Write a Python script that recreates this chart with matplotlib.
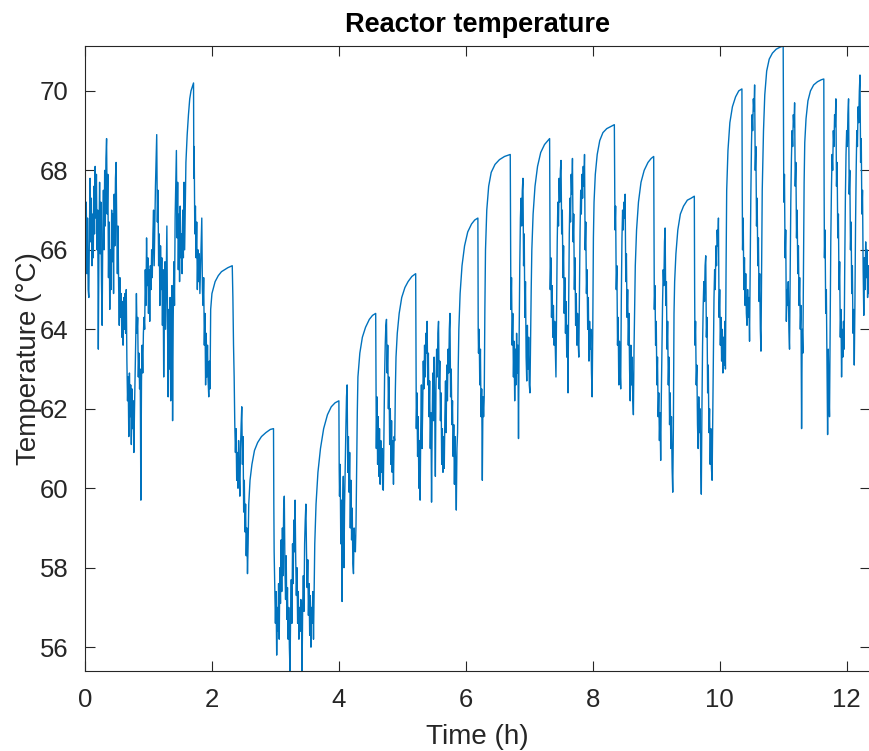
import numpy as np
import matplotlib.pyplot as plt

plt.rcParams['font.family'] = ['Liberation Sans', 'DejaVu Sans']

# ============== DATA (time h, temperature degC) ==============
seg_0_2h = [
    (0.00, 67.6), (0.01, 66.0), (0.02, 67.2), (0.03, 65.4), (0.04, 66.8), (0.05, 65.0), (0.06, 64.8), (0.07, 66.5),
    (0.08, 67.8), (0.09, 66.2), (0.10, 67.3), (0.11, 65.6), (0.12, 66.9), (0.13, 65.8), (0.14, 67.6), (0.15, 66.4),
    (0.16, 68.1), (0.17, 66.8), (0.18, 67.9), (0.19, 66.0), (0.20, 67.0), (0.21, 63.5), (0.22, 66.2), (0.23, 67.7),
    (0.24, 65.9), (0.25, 67.2), (0.26, 65.2), (0.27, 64.1), (0.28, 66.4), (0.29, 67.5), (0.30, 66.0), (0.31, 68.0),
    (0.32, 66.6), (0.33, 68.3), (0.34, 68.8), (0.35, 66.9), (0.36, 67.9), (0.37, 65.3), (0.38, 66.7), (0.39, 64.5),
    (0.40, 66.0), (0.41, 65.0), (0.42, 67.0), (0.43, 65.7), (0.44, 66.9), (0.45, 64.9), (0.46, 67.4), (0.47, 66.1),
    (0.48, 67.8), (0.49, 68.2), (0.50, 66.6), (0.51, 65.4), (0.52, 66.6), (0.53, 65.1), (0.54, 64.1), (0.55, 65.3),
    (0.56, 64.3), (0.57, 64.9), (0.58, 63.8), (0.59, 64.7), (0.60, 63.6), (0.61, 64.8), (0.62, 64.0), (0.63, 64.9),
    (0.64, 63.9), (0.65, 65.0), (0.66, 63.2), (0.67, 62.2), (0.68, 62.8), (0.69, 61.3), (0.70, 62.9), (0.71, 61.8),
    (0.72, 62.6), (0.73, 61.1), (0.74, 62.5), (0.75, 61.5), (0.76, 62.2), (0.77, 60.9), (0.78, 62.0), (0.79, 62.9),
    (0.80, 63.8), (0.81, 64.9), (0.82, 63.9), (0.83, 64.3), (0.84, 62.8), (0.85, 63.4), (0.86, 62.5), (0.87, 63.0),
    (0.88, 59.7), (0.89, 62.7), (0.90, 63.6), (0.91, 62.9), (0.92, 63.9), (0.93, 64.3), (0.94, 64.0), (0.95, 65.5),
    (0.96, 64.6), (0.97, 66.3), (0.98, 65.1), (0.99, 65.8), (1.00, 64.4), (1.01, 65.5), (1.02, 64.2), (1.03, 65.6),
    (1.04, 65.0), (1.05, 66.0), (1.06, 65.3), (1.07, 66.4), (1.08, 67.0), (1.09, 65.6), (1.10, 66.6), (1.11, 67.6),
    (1.12, 68.3), (1.13, 68.9), (1.14, 66.7), (1.15, 67.5), (1.16, 65.6), (1.17, 66.4), (1.18, 64.6), (1.19, 66.1),
    (1.20, 65.0), (1.21, 65.8), (1.22, 64.1), (1.23, 65.5), (1.24, 62.8), (1.25, 64.6), (1.26, 65.7), (1.27, 64.0),
    (1.28, 65.4), (1.29, 66.6), (1.30, 64.2), (1.31, 62.3), (1.32, 64.5), (1.33, 63.0), (1.34, 64.8), (1.35, 62.2),
    (1.36, 64.0), (1.37, 65.1), (1.38, 61.7), (1.39, 64.3), (1.40, 65.7), (1.41, 64.6), (1.42, 66.8), (1.43, 67.6),
    (1.44, 68.5), (1.45, 66.3), (1.46, 67.7), (1.47, 65.5), (1.48, 66.9), (1.49, 65.2), (1.50, 67.1), (1.51, 65.8),
    (1.52, 66.4), (1.53, 65.4), (1.54, 67.0), (1.55, 65.8), (1.56, 67.7), (1.57, 66.0), (1.58, 67.2), (1.59, 68.2),
    (1.61, 68.9), (1.63, 69.4), (1.65, 69.8), (1.67, 70.0), (1.69, 70.1), (1.71, 70.2), (1.715, 67.8), (1.72, 68.6),
    (1.73, 66.4), (1.74, 67.1), (1.75, 65.8), (1.76, 66.7), (1.77, 65.0), (1.78, 66.0), (1.79, 65.2), (1.80, 65.9),
    (1.81, 64.9), (1.82, 65.5), (1.83, 66.2), (1.84, 66.8), (1.85, 65.0), (1.86, 64.6), (1.87, 65.3), (1.88, 63.6),
    (1.89, 64.4), (1.90, 62.6), (1.91, 63.9), (1.92, 62.8), (1.93, 63.6), (1.94, 62.7), (1.95, 62.3), (1.96, 63.2),
    (1.97, 62.5), (1.98, 64.5),
]

seg_2_4h = [
    (2.00, 64.9), (2.05, 65.2), (2.10, 65.35), (2.15, 65.45), (2.20, 65.5), (2.25, 65.55), (2.32, 65.6),
    (2.33, 64.8), (2.34, 63.6), (2.35, 62.8), (2.36, 61.6), (2.37, 60.9), (2.38, 61.5), (2.39, 60.2), (2.40, 60.9),
    (2.41, 60.0), (2.42, 61.2), (2.43, 60.3), (2.44, 59.8), (2.45, 61.0), (2.46, 61.6), (2.47, 62.05), (2.48, 60.6),
    (2.49, 61.3), (2.50, 59.4), (2.51, 60.2), (2.52, 58.9), (2.53, 59.6), (2.54, 58.3), (2.55, 59.0), (2.56, 57.85),
    (2.57, 58.6), (2.58, 59.6), (2.60, 60.2), (2.63, 60.6), (2.67, 60.95), (2.72, 61.15), (2.78, 61.3), (2.85, 61.4),
    (2.92, 61.48), (2.97, 61.5), (2.975, 59.6), (2.98, 58.4), (2.99, 57.5), (3.00, 56.6), (3.01, 57.4), (3.02, 55.8),
    (3.03, 57.0), (3.04, 56.4), (3.05, 57.6), (3.06, 56.2), (3.07, 58.0), (3.08, 57.1), (3.09, 58.7), (3.10, 57.4),
    (3.11, 59.0), (3.12, 57.8), (3.13, 59.5), (3.14, 59.8), (3.15, 58.0), (3.16, 57.2), (3.17, 58.3), (3.18, 56.7),
    (3.19, 57.5), (3.20, 56.2), (3.21, 57.0), (3.22, 56.0), (3.23, 55.4), (3.24, 56.9), (3.25, 57.7), (3.26, 56.6),
    (3.27, 58.6), (3.28, 57.6), (3.29, 59.2), (3.30, 58.4), (3.31, 59.7), (3.32, 58.2), (3.33, 57.3), (3.34, 58.0),
    (3.35, 56.6), (3.36, 57.4), (3.37, 56.2), (3.38, 57.0), (3.39, 56.4), (3.40, 57.2), (3.41, 56.8), (3.42, 55.4),
    (3.43, 57.1), (3.44, 57.8), (3.45, 56.9), (3.46, 58.6), (3.47, 59.2), (3.48, 59.6), (3.49, 58.4), (3.50, 57.5),
    (3.51, 58.2), (3.52, 56.8), (3.53, 57.6), (3.54, 56.3), (3.55, 57.3), (3.56, 56.0), (3.57, 57.0), (3.58, 56.6),
    (3.59, 57.4), (3.60, 56.2), (3.61, 57.5), (3.62, 58.6), (3.64, 59.6), (3.67, 60.4), (3.71, 61.0), (3.76, 61.5),
    (3.82, 61.85), (3.88, 62.05), (3.94, 62.15), (4.00, 62.2),
]

seg_4_6h = [
    (4.005, 60.5), (4.01, 59.8), (4.02, 60.6), (4.03, 58.6), (4.04, 59.7), (4.05, 57.15), (4.06, 59.5), (4.07, 60.3),
    (4.08, 58.0), (4.09, 59.6), (4.10, 60.6), (4.11, 61.5), (4.12, 62.3), (4.13, 62.6), (4.14, 60.4), (4.15, 61.3),
    (4.16, 59.9), (4.17, 60.9), (4.18, 59.0), (4.19, 60.2), (4.20, 58.7), (4.21, 59.5), (4.22, 58.1), (4.23, 57.85),
    (4.24, 59.0), (4.25, 58.5), (4.26, 58.4), (4.27, 59.1), (4.28, 60.5), (4.29, 61.9), (4.30, 62.8), (4.33, 63.4),
    (4.37, 63.8), (4.42, 64.05), (4.48, 64.25), (4.53, 64.35), (4.58, 64.4), (4.585, 62.9), (4.59, 61.0), (4.60, 62.3),
    (4.61, 60.6), (4.62, 61.8), (4.63, 60.3), (4.64, 61.5), (4.65, 60.1), (4.66, 61.2), (4.67, 60.4), (4.68, 61.0),
    (4.69, 60.0), (4.70, 59.95), (4.71, 61.5), (4.72, 62.8), (4.73, 63.6), (4.74, 64.1), (4.75, 64.25), (4.76, 62.9),
    (4.77, 63.6), (4.78, 62.0), (4.79, 62.8), (4.80, 61.1), (4.81, 62.0), (4.82, 60.6), (4.83, 61.7), (4.84, 60.4),
    (4.85, 61.2), (4.86, 60.1), (4.87, 61.3), (4.88, 61.2), (4.89, 62.5), (4.90, 63.3), (4.92, 63.9), (4.95, 64.4),
    (4.99, 64.8), (5.04, 65.05), (5.09, 65.2), (5.15, 65.33), (5.21, 65.4), (5.215, 63.5), (5.22, 61.5), (5.23, 62.4),
    (5.24, 60.8), (5.25, 61.8), (5.26, 60.0), (5.27, 61.2), (5.28, 59.7), (5.29, 61.5), (5.30, 62.6), (5.31, 61.0),
    (5.32, 62.0), (5.33, 63.2), (5.34, 62.5), (5.35, 63.6), (5.36, 62.8), (5.37, 63.9), (5.38, 63.4), (5.39, 64.2),
    (5.40, 62.6), (5.41, 63.4), (5.42, 61.8), (5.43, 62.7), (5.44, 61.0), (5.45, 61.9), (5.46, 59.65), (5.47, 61.6),
    (5.48, 62.9), (5.49, 61.7), (5.50, 63.3), (5.51, 62.0), (5.52, 60.3), (5.53, 62.6), (5.54, 63.5), (5.55, 62.8),
    (5.56, 63.9), (5.57, 64.2), (5.58, 62.5), (5.59, 63.2), (5.60, 61.7), (5.61, 62.4), (5.62, 60.6), (5.63, 61.5),
    (5.64, 60.4), (5.65, 61.3), (5.66, 60.5), (5.67, 61.8), (5.68, 62.7), (5.69, 61.4), (5.70, 63.1), (5.71, 62.2),
    (5.72, 63.5), (5.73, 62.9), (5.74, 64.0), (5.75, 64.4), (5.76, 62.3), (5.77, 63.0), (5.78, 61.6), (5.79, 62.2),
    (5.80, 60.8), (5.81, 61.6), (5.82, 60.1), (5.83, 61.3), (5.84, 60.5), (5.85, 59.45), (5.86, 61.0), (5.87, 61.4),
    (5.88, 63.0), (5.89, 64.0), (5.91, 64.9), (5.94, 65.6), (5.98, 66.1),
]

seg_6_8h = [
    (6.03, 66.45), (6.09, 66.65), (6.14, 66.75), (6.19, 66.8), (6.195, 64.0), (6.20, 63.4), (6.21, 64.0), (6.22, 62.6),
    (6.23, 63.5), (6.24, 61.8), (6.25, 62.5), (6.26, 60.2), (6.27, 62.3), (6.28, 61.8), (6.29, 62.3), (6.30, 64.5),
    (6.31, 66.0), (6.33, 67.0), (6.36, 67.6), (6.40, 67.95), (6.46, 68.15), (6.53, 68.27), (6.61, 68.35), (6.70, 68.4),
    (6.705, 66.2), (6.71, 64.5), (6.72, 65.3), (6.73, 63.6), (6.74, 64.4), (6.75, 62.8), (6.76, 63.7), (6.77, 62.2),
    (6.78, 63.5), (6.79, 62.6), (6.80, 63.9), (6.81, 62.9), (6.82, 63.6), (6.83, 61.25), (6.84, 63.8), (6.85, 65.6),
    (6.86, 66.8), (6.87, 67.3), (6.88, 66.6), (6.89, 67.5), (6.90, 67.8), (6.91, 65.6), (6.92, 66.4), (6.93, 64.3),
    (6.94, 65.2), (6.95, 63.3), (6.96, 62.7), (6.97, 64.1), (6.98, 63.0), (6.99, 63.8), (7.00, 62.6), (7.01, 62.4),
    (7.02, 63.8), (7.03, 65.0), (7.04, 66.0), (7.06, 66.9), (7.09, 67.6), (7.13, 68.1), (7.18, 68.45), (7.24, 68.65),
    (7.32, 68.8), (7.325, 66.5), (7.33, 65.0), (7.34, 65.8), (7.35, 64.3), (7.36, 65.1), (7.37, 63.8), (7.38, 64.6),
    (7.39, 63.6), (7.40, 64.2), (7.41, 63.5), (7.42, 62.8), (7.43, 64.5), (7.44, 66.2), (7.45, 67.2), (7.46, 66.6),
    (7.47, 67.8), (7.48, 67.2), (7.49, 68.0), (7.50, 68.25), (7.51, 66.4), (7.52, 67.0), (7.53, 65.3), (7.54, 66.1),
    (7.55, 64.4), (7.56, 65.3), (7.57, 63.9), (7.58, 64.7), (7.59, 63.3), (7.60, 64.1), (7.61, 62.4), (7.62, 64.6),
    (7.63, 66.4), (7.64, 67.3), (7.65, 66.7), (7.66, 67.9), (7.67, 67.4), (7.68, 68.3), (7.69, 66.2), (7.70, 66.9),
    (7.71, 65.0), (7.72, 65.8), (7.73, 64.1), (7.74, 64.9), (7.75, 63.6), (7.76, 64.4), (7.77, 63.7), (7.78, 63.3),
    (7.79, 64.8), (7.80, 66.5), (7.81, 67.5), (7.82, 66.9), (7.83, 67.9), (7.84, 67.3), (7.85, 68.1), (7.86, 67.6),
    (7.87, 68.4), (7.88, 66.0), (7.89, 66.7), (7.90, 64.9), (7.91, 65.5), (7.92, 64.0), (7.93, 64.8), (7.94, 63.2),
    (7.95, 64.2), (7.96, 63.5), (7.97, 64.0), (7.98, 62.9), (7.99, 62.3), (8.00, 64.0),
]

seg_8_10h = [
    (8.01, 66.3), (8.02, 67.2), (8.04, 67.9), (8.07, 68.4), (8.11, 68.75), (8.16, 68.95), (8.22, 69.05), (8.28, 69.1),
    (8.34, 69.15), (8.345, 67.8), (8.35, 66.5), (8.36, 67.1), (8.37, 65.0), (8.38, 65.6), (8.39, 63.6), (8.40, 64.3),
    (8.41, 62.6), (8.42, 63.7), (8.43, 63.0), (8.44, 62.5), (8.45, 64.8), (8.46, 66.3), (8.47, 67.0), (8.48, 66.5),
    (8.49, 67.2), (8.50, 66.8), (8.51, 67.4), (8.52, 65.2), (8.53, 65.9), (8.54, 64.3), (8.55, 65.0), (8.56, 63.6),
    (8.57, 64.4), (8.58, 63.0), (8.59, 62.2), (8.60, 63.6), (8.61, 62.6), (8.62, 63.3), (8.63, 62.3), (8.64, 61.85),
    (8.65, 63.5), (8.66, 64.6), (8.67, 65.6), (8.69, 66.5), (8.72, 67.2), (8.76, 67.7), (8.81, 68.0), (8.87, 68.2),
    (8.92, 68.3), (8.96, 68.35), (8.965, 66.2), (8.97, 64.5), (8.98, 65.1), (8.99, 63.6), (9.00, 64.2), (9.01, 62.6),
    (9.02, 63.3), (9.03, 61.8), (9.04, 62.4), (9.05, 61.2), (9.06, 61.9), (9.07, 60.7), (9.08, 62.3), (9.09, 63.6),
    (9.10, 64.7), (9.11, 65.5), (9.12, 65.1), (9.13, 66.2), (9.14, 66.55), (9.15, 64.6), (9.16, 65.2), (9.17, 63.5),
    (9.18, 64.2), (9.19, 62.6), (9.20, 63.3), (9.21, 61.6), (9.22, 62.4), (9.23, 61.0), (9.24, 61.8), (9.25, 60.5),
    (9.26, 59.9), (9.27, 61.5), (9.28, 64.4), (9.29, 65.2), (9.31, 65.9), (9.34, 66.5), (9.38, 66.9), (9.43, 67.1),
    (9.49, 67.25), (9.55, 67.3), (9.60, 67.35), (9.605, 65.0), (9.61, 63.6), (9.62, 64.2), (9.63, 62.6), (9.64, 63.1),
    (9.65, 61.6), (9.66, 61.0), (9.67, 62.3), (9.68, 61.4), (9.69, 62.0), (9.70, 60.8), (9.71, 59.85), (9.72, 62.0),
    (9.73, 63.6), (9.74, 64.6), (9.75, 65.2), (9.76, 64.7), (9.77, 65.6), (9.78, 65.85), (9.79, 63.8), (9.80, 64.3),
    (9.81, 62.4), (9.82, 63.1), (9.83, 61.4), (9.84, 62.0), (9.85, 60.6), (9.86, 61.5), (9.87, 60.5), (9.88, 60.2),
    (9.89, 61.8), (9.90, 63.5), (9.91, 64.8), (9.92, 65.5), (9.93, 65.0), (9.94, 66.1), (9.95, 65.6), (9.96, 66.5),
    (9.97, 66.1), (9.98, 66.8), (9.99, 64.3),
]

seg_10_12h = [
    (10.00, 65.0), (10.01, 63.6), (10.02, 64.3), (10.03, 63.2), (10.04, 64.0), (10.05, 62.9), (10.06, 63.8),
    (10.07, 63.1), (10.08, 64.2), (10.09, 63.0), (10.10, 65.5), (10.11, 67.5), (10.13, 68.5), (10.16, 69.2),
    (10.20, 69.6), (10.25, 69.85), (10.30, 70.0), (10.35, 70.05), (10.355, 67.5), (10.36, 66.0), (10.37, 66.8),
    (10.38, 65.0), (10.39, 65.8), (10.40, 64.6), (10.41, 65.4), (10.42, 64.4), (10.43, 64.1), (10.44, 65.0),
    (10.45, 64.3), (10.46, 64.8), (10.47, 63.7), (10.48, 65.5), (10.49, 67.3), (10.50, 68.6), (10.51, 69.4),
    (10.52, 69.0), (10.53, 69.8), (10.54, 69.5), (10.55, 70.15), (10.56, 68.0), (10.57, 68.6), (10.58, 66.6),
    (10.59, 67.3), (10.60, 65.6), (10.61, 66.3), (10.62, 64.7), (10.63, 65.4), (10.64, 64.0), (10.65, 63.45),
    (10.66, 65.5), (10.67, 67.5), (10.69, 69.0), (10.71, 69.9), (10.74, 70.5), (10.78, 70.8), (10.83, 70.95),
    (10.89, 71.05), (10.95, 71.1), (11.00, 71.13), (11.005, 68.8), (11.01, 67.2), (11.02, 67.9), (11.03, 65.8),
    (11.04, 66.5), (11.05, 64.2), (11.06, 65.0), (11.07, 64.6), (11.08, 65.2), (11.09, 64.0), (11.10, 63.5),
    (11.11, 65.5), (11.12, 67.2), (11.13, 68.3), (11.14, 69.0), (11.15, 68.6), (11.16, 69.4), (11.17, 69.1),
    (11.18, 69.7), (11.19, 67.6), (11.20, 68.2), (11.21, 66.3), (11.22, 67.0), (11.23, 65.4), (11.24, 66.1),
    (11.25, 64.6), (11.26, 65.3), (11.27, 64.0), (11.28, 64.6), (11.29, 61.5), (11.30, 64.0), (11.31, 63.4),
    (11.32, 65.5), (11.33, 67.7), (11.34, 68.7), (11.36, 69.3), (11.39, 69.75), (11.43, 70.0), (11.48, 70.15),
    (11.54, 70.23), (11.60, 70.28), (11.64, 70.3), (11.645, 67.5), (11.65, 65.8), (11.66, 66.5), (11.67, 64.4),
    (11.68, 65.0), (11.69, 63.2), (11.70, 61.35), (11.71, 63.5), (11.72, 62.5), (11.73, 61.8), (11.74, 64.0),
    (11.75, 66.2), (11.76, 67.5), (11.77, 68.4), (11.78, 68.0), (11.79, 69.0), (11.80, 68.6), (11.81, 69.4),
    (11.82, 69.1), (11.83, 69.8), (11.84, 67.6), (11.85, 68.2), (11.86, 66.3), (11.87, 66.9), (11.88, 65.0),
    (11.89, 65.7), (11.90, 63.8), (11.91, 64.5), (11.92, 62.8), (11.93, 64.0), (11.94, 63.3), (11.95, 64.2),
    (11.96, 63.5), (11.97, 65.6), (11.98, 67.3), (11.99, 68.4),
]

seg_12h_end = [
    (12.00, 69.0), (12.01, 68.6), (12.02, 69.4), (12.03, 69.8), (12.04, 67.4), (12.05, 68.0), (12.06, 66.0),
    (12.07, 66.7), (12.08, 64.9), (12.09, 65.6), (12.10, 63.9), (12.11, 64.5), (12.12, 63.1), (12.13, 64.6),
    (12.14, 66.6), (12.15, 68.0), (12.16, 69.0), (12.17, 68.6), (12.18, 69.6), (12.19, 69.2), (12.20, 70.0),
    (12.21, 70.4), (12.22, 68.2), (12.23, 68.8), (12.24, 66.9), (12.25, 67.5), (12.26, 65.5), (12.27, 64.35),
    (12.28, 65.8), (12.29, 65.0), (12.30, 66.2), (12.31, 65.3), (12.32, 66.0), (12.33, 64.8), (12.34, 65.6),
    (12.35, 64.9), (12.36, 65.4),
]

x_ticks = [0, 2, 4, 6, 8, 10, 12]
y_ticks = [56, 58, 60, 62, 64, 66, 68, 70]
# =============================================================

trace = np.array(seg_0_2h + seg_2_4h + seg_4_6h + seg_6_8h + seg_8_10h + seg_10_12h + seg_12h_end)
time_h = trace[:, 0]
temp_c = trace[:, 1]

axis_col = '#262626'

fig = plt.figure(figsize=(8.69, 7.51), dpi=100)
ax = fig.add_axes([85 / 869, 80 / 751, 784.5 / 869, 625 / 751])

ax.plot(time_h, temp_c, color='#0072BD', linewidth=1.0)

# MATLAB "axis tight"
ax.set_xlim(0, time_h.max())
ax.set_ylim(temp_c.min(), temp_c.max())
ax.set_xticks(x_ticks)
ax.set_yticks(y_ticks)

ax.tick_params(direction='in', length=7, width=0.8, top=True, right=True,
               colors=axis_col, labelsize=18.5, pad=12)
for s in ax.spines.values():
    s.set_color(axis_col)
    s.set_linewidth(0.8)

ax.set_xlabel('Time (h)', fontsize=20, color=axis_col, labelpad=9)
ax.set_ylabel('Temperature (°C)', fontsize=20, color=axis_col, labelpad=-2)
ax.set_title('Reactor temperature', fontsize=19.5, fontweight='bold', color='black', pad=10)

fig.savefig('out.png', dpi=100)
